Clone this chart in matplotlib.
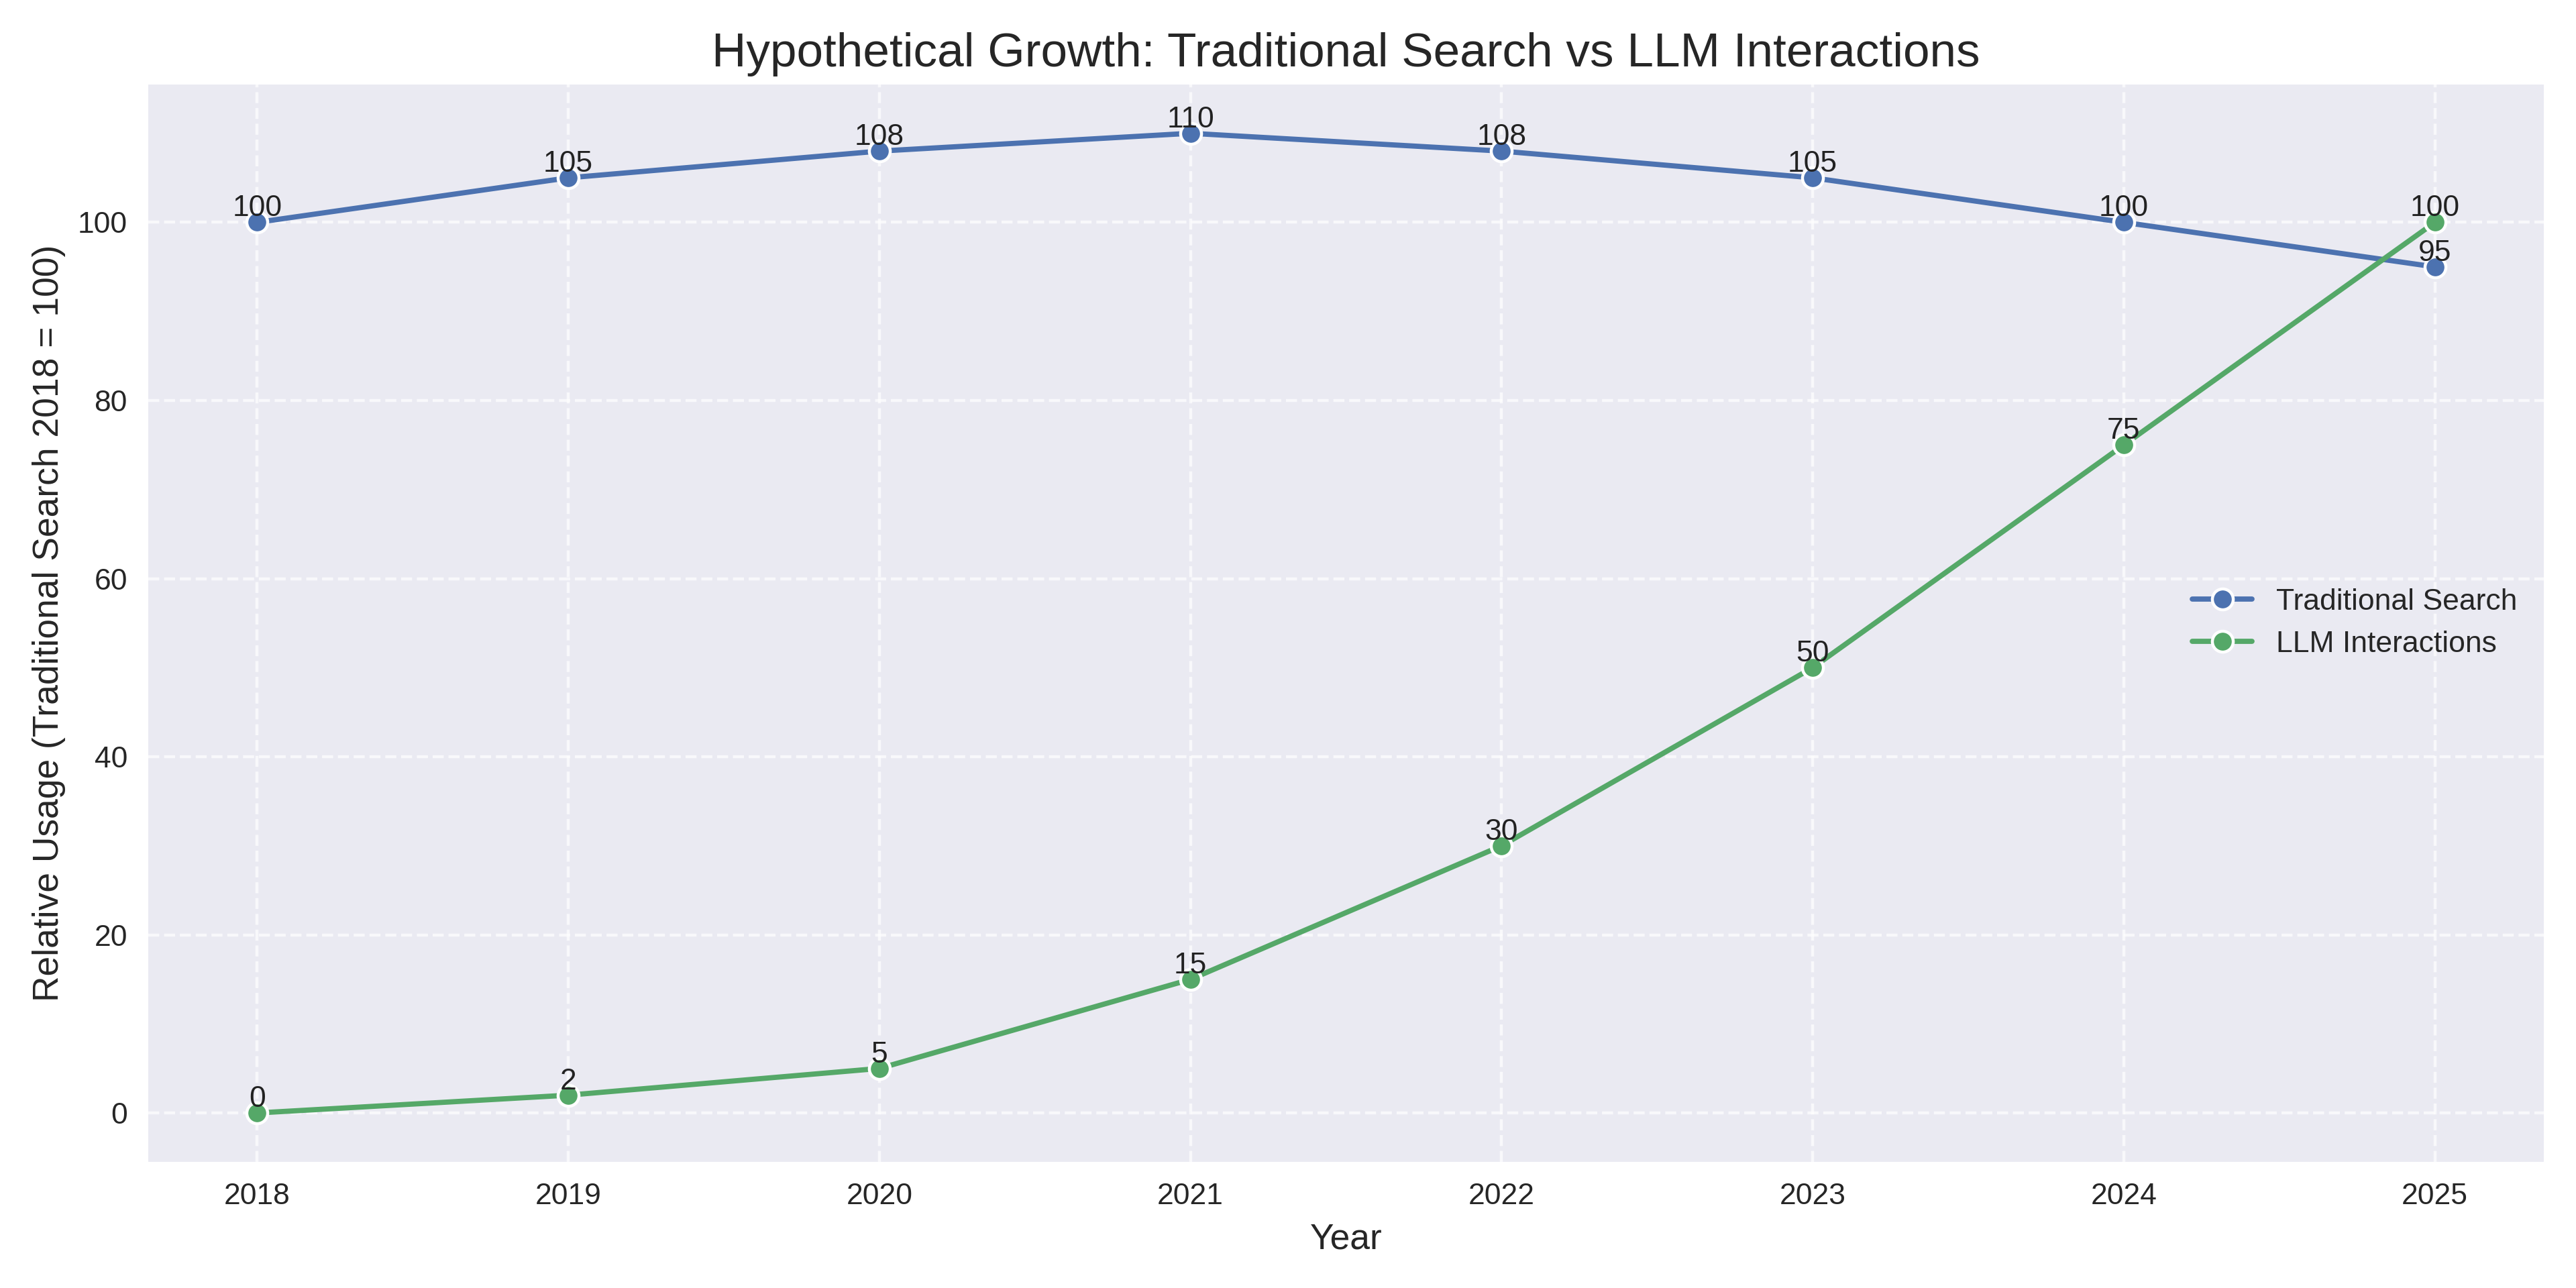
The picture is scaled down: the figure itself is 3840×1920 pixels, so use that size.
import matplotlib
matplotlib.use("Agg")
import matplotlib.pyplot as plt

years = [2018, 2019, 2020, 2021, 2022, 2023, 2024, 2025]
traditional = [100, 105, 108, 110, 108, 105, 100, 95]
llm = [0, 2, 5, 15, 30, 50, 75, 100]

plt.style.use("seaborn-v0_8")
plt.rcParams['font.family'] = ['Liberation Sans', 'DejaVu Sans']

fig, ax = plt.subplots(figsize=(12, 6), dpi=320)
ax.plot(years, traditional, marker='o', color='#4c72b0', linewidth=1.75,
        markersize=7, markeredgecolor='white', markeredgewidth=1,
        label='Traditional Search')
ax.plot(years, llm, marker='o', color='#55a868', linewidth=1.75,
        markersize=7, markeredgecolor='white', markeredgewidth=1,
        label='LLM Interactions')

for x, y in zip(years, traditional):
    ax.text(x, y, f"{y}", ha='center', va='bottom', fontsize=10, color='#222222')
for x, y in zip(years, llm):
    ax.text(x, y, f"{y}", ha='center', va='bottom', fontsize=10, color='#222222')

ax.grid(True, linestyle='--', alpha=0.7)
ax.set_title("Hypothetical Growth: Traditional Search vs LLM Interactions", fontsize=16)
ax.set_xlabel("Year", fontsize=12)
ax.set_ylabel("Relative Usage (Traditional Search 2018 = 100)", fontsize=12)
ax.set_xticks(years)
ax.tick_params(labelsize=10)
ax.legend(loc='center right', fontsize=10)

fig.tight_layout()
fig.savefig("out.png", dpi=320)
